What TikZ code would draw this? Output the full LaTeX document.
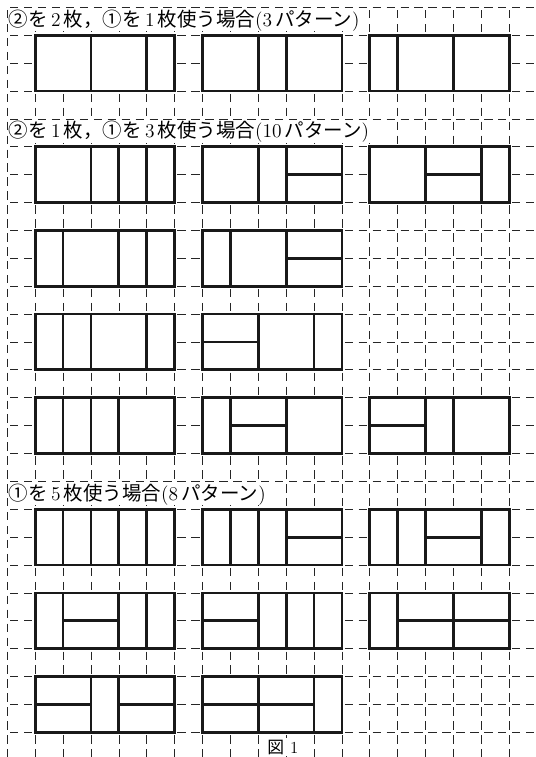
\documentclass[tikz,border=0pt]{standalone}
\usepackage{fontspec}
\newfontfamily\jp{Noto Sans CJK JP}

% one 5x2 board: top-left cell at (#1,#2), inner cuts in #3
\newcommand{\tileboard}[3]{%
  \draw[boardframe] (#1,-#2) rectangle ++(5,-2);
  \draw[tile, shift={(#1,-#2)}] #3;%
}

\begin{document}
\begin{tikzpicture}[x=0.7cm, y=0.7cm,
    gridline/.style={black!85, line width=0.5pt, dash pattern=on 0.21cm off 0.14cm, dash phase=0.28cm},
    boardframe/.style={draw=black!90, fill=white, line width=2pt},
    tile/.style={black!90, line width=2pt},
    heading/.style={fill=white, inner xsep=1pt, inner ysep=0pt, anchor=west, font=\fontsize{13.9}{17}\selectfont},
    figlabel/.style={fill=white, inner sep=1pt, font=\fontsize{12}{14}\selectfont}
]

\fill[white] (-0.262,0.262) rectangle (18.914,-26.871);

% dashed grid
\foreach \i in {0,...,18}
  \draw[gridline] (\i,0) -- (\i,-26.871);
\foreach \j in {0,...,26}
  \draw[gridline] (0,-\j) -- (18.914,-\j);

\node (head1) [heading] at (0,-0.47) {{\jp ②を}\,2\,{\jp 枚，①を}\,1\,{\jp 枚使う場合}(3\,{\jp パターン})};
\node (head2) [heading] at (0,-4.47) {{\jp ②を}\,1\,{\jp 枚，①を}\,3\,{\jp 枚使う場合}(10\,{\jp パターン})};
\node (head3) [heading] at (0,-17.47) {{\jp ①を}\,5\,{\jp 枚使う場合}(8\,{\jp パターン})};

% 2 squares + 1 domino
\tileboard{1}{1}{(2,0) -- (2,-2) (4,0) -- (4,-2)}
\tileboard{7}{1}{(2,0) -- (2,-2) (3,0) -- (3,-2)}
\tileboard{13}{1}{(1,0) -- (1,-2) (3,0) -- (3,-2)}

% 1 square + 3 dominoes
\tileboard{1}{5}{(2,0) -- (2,-2) (3,0) -- (3,-2) (4,0) -- (4,-2)}
\tileboard{7}{5}{(2,0) -- (2,-2) (3,0) -- (3,-2) (3,-1) -- (5,-1)}
\tileboard{13}{5}{(2,0) -- (2,-2) (4,0) -- (4,-2) (2,-1) -- (4,-1)}
\tileboard{1}{8}{(1,0) -- (1,-2) (3,0) -- (3,-2) (4,0) -- (4,-2)}
\tileboard{7}{8}{(1,0) -- (1,-2) (3,0) -- (3,-2) (3,-1) -- (5,-1)}
\tileboard{1}{11}{(1,0) -- (1,-2) (2,0) -- (2,-2) (4,0) -- (4,-2)}
\tileboard{7}{11}{(0,-1) -- (2,-1) (2,0) -- (2,-2) (4,0) -- (4,-2)}
\tileboard{1}{14}{(1,0) -- (1,-2) (2,0) -- (2,-2) (3,0) -- (3,-2)}
\tileboard{7}{14}{(1,0) -- (1,-2) (1,-1) -- (3,-1) (3,0) -- (3,-2)}
\tileboard{13}{14}{(0,-1) -- (2,-1) (2,0) -- (2,-2) (3,0) -- (3,-2)}

% 5 dominoes
\tileboard{1}{18}{(1,0) -- (1,-2) (2,0) -- (2,-2) (3,0) -- (3,-2) (4,0) -- (4,-2)}
\tileboard{7}{18}{(1,0) -- (1,-2) (2,0) -- (2,-2) (3,0) -- (3,-2) (3,-1) -- (5,-1)}
\tileboard{13}{18}{(1,0) -- (1,-2) (2,0) -- (2,-2) (2,-1) -- (4,-1) (4,0) -- (4,-2)}
\tileboard{1}{21}{(1,0) -- (1,-2) (1,-1) -- (3,-1) (3,0) -- (3,-2) (4,0) -- (4,-2)}
\tileboard{7}{21}{(0,-1) -- (2,-1) (2,0) -- (2,-2) (3,0) -- (3,-2) (4,0) -- (4,-2)}
\tileboard{13}{21}{(1,0) -- (1,-2) (1,-1) -- (5,-1) (3,0) -- (3,-2)}
\tileboard{1}{24}{(0,-1) -- (2,-1) (2,0) -- (2,-2) (3,0) -- (3,-2) (3,-1) -- (5,-1)}
\tileboard{7}{24}{(0,-1) -- (4,-1) (2,0) -- (2,-2) (4,0) -- (4,-2)}

\node (fig) [figlabel] at (9.88,-26.53) {{\jp 図}\hspace{0.35em}1};

\end{tikzpicture}
\end{document}
